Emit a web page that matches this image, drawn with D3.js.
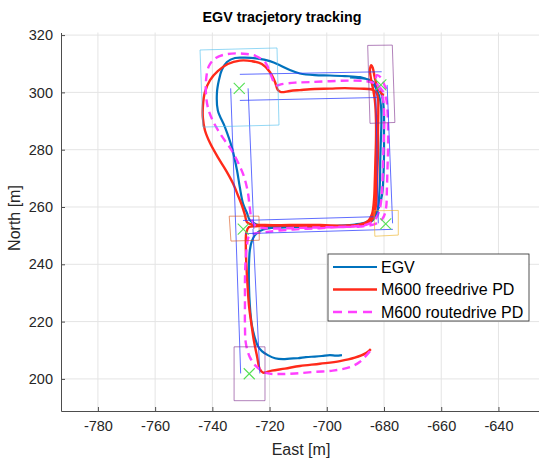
<!DOCTYPE html>
<meta charset="utf-8">
<script src="https://d3js.org/d3.v7.min.js"></script>
<body style="margin:0;background:#fff">
<svg width="539" height="459"></svg>
<script>
    // axis ticks
    var xTicks = [-780, -760, -740, -720, -700, -680, -660, -640];
    var yTicks = [200, 220, 240, 260, 280, 300, 320];
    var seriesNames = ['EGV', 'M600 freedrive PD', 'M600 routedrive PD'];

    // trajectories [East, North] in m
    var egv = [[-694.7,208.3],[-696.8,208.1],[-698.9,208.3],[-701.7,208.0],[-704.2,207.8],[-707.3,207.6],[-710.1,207.2],[-712.9,207.1],[-715.3,206.9],[-718.1,207.2],[-720.6,208.3],[-722.7,209.7],[-724.1,211.5],[-725.1,214.2],[-726.2,218.8],[-726.9,225.8],[-727.2,232.7],[-727.2,239.7],[-726.9,244.9],[-726.2,248.1],[-725.1,250.2],[-723.4,251.6],[-720.6,252.5],[-716.4,252.8],[-709.4,253.0],[-702.4,253.2],[-695.4,253.3],[-690.2,253.5],[-686.3,254.0],[-683.9,255.4],[-682.5,257.9],[-681.8,262.4],[-681.4,269.4],[-681.3,276.4],[-681.1,283.3],[-680.9,290.3],[-681.1,295.6],[-681.8,299.1],[-683.2,302.2],[-685.3,304.3],[-688.4,305.3],[-693.7,305.7],[-698.9,305.9],[-704.2,306.0],[-709.4,306.6],[-712.9,307.8],[-716.4,309.5],[-719.9,310.9],[-724.1,311.8],[-728.6,312.1],[-732.1,312.0],[-734.9,310.6],[-736.7,307.8],[-737.7,304.3],[-738.4,299.8],[-738.1,293.8],[-735.6,287.9],[-733.2,280.9],[-731.4,272.9],[-730.4,266.9],[-729.3,261.3],[-727.9,257.9],[-726.9,255.4],[-724.8,254.0],[-721.6,253.2],[-716.4,253.0],[-709.4,253.2],[-702.4,253.3],[-695.4,253.5],[-690.2,253.9],[-686.3,254.7],[-683.5,256.8],[-681.8,259.9],[-680.7,264.2],[-680.2,271.1],[-680.0,278.1],[-680.0,285.1],[-680.0,292.1],[-680.4,297.3],[-681.1,300.1],[-682.5,302.5],[-684.9,304.3],[-688.4,305.0],[-691.9,305.2]];

    var freedrive = [[-684.6,210.4],[-686.3,209.0],[-690.2,207.4],[-695.4,206.2],[-702.4,205.3],[-709.4,204.5],[-714.6,203.6],[-719.2,202.9],[-722.3,202.2],[-723.4,203.4],[-724.4,208.0],[-725.5,213.5],[-726.3,218.8],[-727.2,225.7],[-727.7,232.7],[-728.1,239.7],[-728.3,246.7],[-728.1,251.2],[-727.2,253.0],[-724.8,253.3],[-719.9,253.5],[-712.9,253.5],[-705.9,253.3],[-698.9,253.3],[-691.9,253.3],[-687.7,253.7],[-684.9,254.7],[-683.5,257.2],[-682.8,260.7],[-682.5,265.9],[-682.3,272.9],[-682.1,279.9],[-682.1,286.8],[-682.0,293.8],[-682.1,298.0],[-682.8,300.1],[-684.2,301.0],[-688.4,301.3],[-693.7,301.5],[-698.9,301.3],[-704.2,301.2],[-709.4,300.8],[-712.9,300.5],[-716.0,300.1],[-717.1,300.8],[-718.1,303.6],[-719.9,307.1],[-722.7,309.9],[-726.2,310.9],[-730.4,311.1],[-734.6,309.9],[-738.1,307.4],[-740.8,304.3],[-742.6,300.1],[-743.3,295.2],[-743.3,291.0],[-742.6,286.8],[-740.8,282.3],[-738.1,277.4],[-735.3,272.9],[-732.8,268.3],[-731.1,264.2],[-729.7,260.7],[-728.6,257.2],[-727.9,254.7],[-726.2,253.9],[-721.6,253.7],[-712.9,253.7],[-702.4,253.7],[-693.7,253.5],[-688.4,253.9],[-685.6,255.1],[-684.2,257.5],[-683.5,262.4],[-683.2,269.4],[-683.0,276.4],[-682.8,283.3],[-682.8,290.3],[-683.2,297.3],[-683.9,301.5],[-684.6,305.0],[-684.9,308.1],[-684.4,309.5],[-683.9,308.5],[-683.2,305.0],[-682.1,301.5],[-680.7,299.4],[-680.0,299.1]];

    var routedrive = [[-684.9,209.7],[-688.4,206.0],[-691.9,204.1],[-697.9,202.9],[-704.8,202.4],[-711.1,201.9],[-716.4,201.7],[-720.9,202.0],[-724.4,204.1],[-726.9,207.6],[-728.3,212.5],[-728.6,218.8],[-728.6,227.5],[-728.6,234.5],[-728.4,240.8],[-727.9,246.7],[-727.2,249.8],[-725.5,250.7],[-721.6,251.2],[-716.4,251.8],[-709.4,252.3],[-702.4,252.6],[-695.4,253.0],[-688.4,253.2],[-683.2,254.0],[-680.4,256.1],[-679.3,259.6],[-679.0,265.9],[-678.8,272.9],[-678.6,279.9],[-678.6,286.8],[-678.8,293.8],[-679.3,298.0],[-680.7,300.8],[-682.8,302.9],[-686.3,303.9],[-691.9,304.1],[-698.9,303.9],[-705.9,303.6],[-711.1,303.4],[-715.7,302.9],[-717.8,302.5],[-719.5,306.0],[-721.3,310.2],[-724.8,312.7],[-729.3,313.5],[-734.6,313.4],[-738.8,312.0],[-741.2,309.2],[-742.2,304.3],[-742.2,299.1],[-741.5,294.5],[-739.8,290.0],[-736.7,284.7],[-733.5,280.2],[-731.1,275.7],[-729.0,270.8],[-727.6,265.2],[-726.9,259.6],[-726.2,255.4],[-724.8,253.3],[-721.6,252.6],[-714.6,252.6],[-705.9,252.8],[-697.2,253.0],[-690.2,253.3],[-685.6,254.0],[-682.8,256.1],[-681.4,259.6],[-680.7,265.9],[-680.4,272.9],[-680.2,279.9],[-680.0,286.8],[-680.0,293.8],[-680.4,298.0],[-681.4,300.8],[-682.8,304.3],[-682.5,306.0],[-681.1,305.2],[-679.7,302.2],[-678.6,299.8]];

    // waypoints and their boxes
    var waypoints = [[-730.6,301.4],[-681.1,302.6],[-729.2,252.3],[-679.4,254.1],[-727.1,201.8]];
    var boxes = [
        [[-744.3,314.8],[-717.4,315.5],[-716.7,288.6],[-743.3,287.9]],
        [[-685.7,316.4],[-677.1,316.5],[-676.2,289.5],[-684.9,289.2]],
        [[-734.1,256.8],[-723.7,256.8],[-723.6,248.4],[-733.5,248.1]],
        [[-683.5,258.7],[-675.0,258.8],[-675.0,250.2],[-683.2,249.8]],
        [[-732.4,211.2],[-721.6,211.2],[-721.6,192.4],[-732.4,192.4]]
    ];
    var boxColors = ['#4DBEEE', '#7E2F8E', '#D95319', '#EDB120', '#7E2F8E'];

    // corridor edges
    var corridors = [
        [[-730.4,306.3],[-680.8,307.2]],
        [[-730.4,297.2],[-682.5,298.2]],
        [[-733.6,301.4],[-731.8,252.3]],
        [[-727.5,301.4],[-725.5,252.3]],
        [[-731.8,252.3],[-730.1,201.9]],
        [[-725.8,252.3],[-723.4,201.9]],
        [[-729.3,255.3],[-683.5,256.6]],
        [[-728.6,250.7],[-676.9,252.2]],
        [[-682.9,302.6],[-682.0,254.3]],
        [[-678.9,302.6],[-677.0,254.3]]
    ];

    var svg = d3.select('svg');
    var font = '"Liberation Sans", Arial, Helvetica, sans-serif';
    var plotLeft = 61, plotTop = 32.5, plotBottom = 411;

    var x = d3.scaleLinear().domain([-792.9, -620]).range([plotLeft, plotLeft + 172.9 * 2.861]);
    var y = d3.scaleLinear().domain([188.8, 320.9]).range([plotBottom, plotTop]);

    svg.append('rect').attr('width', 539).attr('height', 459).attr('fill', '#fff');

    // grid
    var grid = svg.append('g').attr('stroke', '#e4e4e4').attr('stroke-width', 1);
    grid.selectAll('.gx').data(xTicks).enter().append('line')
        .attr('x1', function(d){ return x(d); }).attr('x2', function(d){ return x(d); })
        .attr('y1', plotTop).attr('y2', plotBottom);
    grid.selectAll('.gy').data(yTicks).enter().append('line')
        .attr('x1', plotLeft).attr('x2', 539)
        .attr('y1', function(d){ return y(d); }).attr('y2', function(d){ return y(d); });

    var line = d3.line()
        .x(function(d){ return x(d[0]); })
        .y(function(d){ return y(d[1]); })
        .curve(d3.curveCatmullRom.alpha(0.5));

    var straight = d3.line()
        .x(function(d){ return x(d[0]); })
        .y(function(d){ return y(d[1]); });

    var plot = svg.append('g');

    plot.append('path').datum(egv)
        .attr('fill', 'none').attr('stroke', '#0072BD').attr('stroke-width', 2.2)
        .attr('d', line);
    plot.append('path').datum(freedrive)
        .attr('fill', 'none').attr('stroke', '#ff2a1a').attr('stroke-width', 2.4)
        .attr('d', line);
    plot.append('path').datum(routedrive)
        .attr('fill', 'none').attr('stroke', '#ff40ff').attr('stroke-width', 2.4)
        .attr('stroke-dasharray', '8,5')
        .attr('d', line);

    plot.selectAll('.corr').data(corridors).enter().append('path')
        .attr('fill', 'none').attr('stroke', '#2b3cff').attr('stroke-opacity', 0.75)
        .attr('stroke-width', 1)
        .attr('d', straight);

    plot.selectAll('.box').data(boxes).enter().append('path')
        .attr('fill', 'none')
        .attr('stroke', function(d, i){ return boxColors[i]; })
        .attr('stroke-opacity', 0.6)
        .attr('stroke-width', 1)
        .attr('d', function(d){ return straight(d) + 'Z'; });

    plot.selectAll('.wp').data(waypoints).enter().append('path')
        .attr('fill', 'none').attr('stroke', '#55e055').attr('stroke-width', 1.1)
        .attr('d', function(d){
            var cx = x(d[0]), cy = y(d[1]), r = 5.5;
            return 'M' + (cx - r) + ',' + (cy - r) + 'L' + (cx + r) + ',' + (cy + r) +
                   'M' + (cx - r) + ',' + (cy + r) + 'L' + (cx + r) + ',' + (cy - r);
        });

    // axes
    var fmt = function(d){ return String(d); };
    var xAxis = svg.append('g').attr('transform', 'translate(0,' + plotBottom + ')')
        .call(d3.axisBottom(x).tickValues(xTicks).tickFormat(fmt).tickSizeInner(-4).tickSizeOuter(0).tickPadding(10));
    var yAxis = svg.append('g').attr('transform', 'translate(' + plotLeft + ',0)')
        .call(d3.axisLeft(y).tickValues(yTicks).tickFormat(fmt).tickSizeInner(-4).tickSizeOuter(0).tickPadding(8));

    [xAxis, yAxis].forEach(function(a){
        a.select('.domain').attr('stroke', '#4d4d4d').attr('stroke-width', 1);
        a.selectAll('.tick line').attr('stroke', '#4d4d4d');
        a.selectAll('.tick text').attr('fill', '#262626')
            .style('font-family', font).style('font-size', '14.5px');
    });

    // title and labels
    svg.append('text').attr('x', 282).attr('y', 22)
        .attr('text-anchor', 'middle').style('font-family', font)
        .style('font-size', '14.3px').style('font-weight', 'bold').attr('fill', '#000')
        .text('EGV tracjetory tracking');
    svg.append('text').attr('x', 301).attr('y', 455)
        .attr('text-anchor', 'middle').style('font-family', font)
        .style('font-size', '16px').attr('fill', '#262626')
        .text('East [m]');
    svg.append('text').attr('transform', 'translate(20,218) rotate(-90)')
        .attr('text-anchor', 'middle').style('font-family', font)
        .style('font-size', '16px').attr('fill', '#262626')
        .text('North [m]');

    // legend
    var legend = svg.append('g');
    legend.append('rect').attr('x', 328).attr('y', 254).attr('width', 201).attr('height', 67)
        .attr('fill', '#fff').attr('stroke', '#262626').attr('stroke-width', 0.8);
    var legendStyles = [
        { color: '#0072BD', width: 2.2, dash: null },
        { color: '#ff2a1a', width: 2.4, dash: null },
        { color: '#ff40ff', width: 2.4, dash: '9,6' }
    ];
    var entry = legend.selectAll('.entry').data(seriesNames).enter().append('g')
        .attr('transform', function(d, i){ return 'translate(0,' + (267 + i * 22.5) + ')'; });
    entry.append('line')
        .attr('x1', 333).attr('x2', 377).attr('y1', 0).attr('y2', 0)
        .attr('stroke', function(d, i){ return legendStyles[i].color; })
        .attr('stroke-width', function(d, i){ return legendStyles[i].width; })
        .attr('stroke-dasharray', function(d, i){ return legendStyles[i].dash; });
    entry.append('text')
        .attr('x', 381).attr('y', 5.5)
        .style('font-family', font).style('font-size', '16px').attr('fill', '#000')
        .text(function(d){ return d; });
</script>
</body>
